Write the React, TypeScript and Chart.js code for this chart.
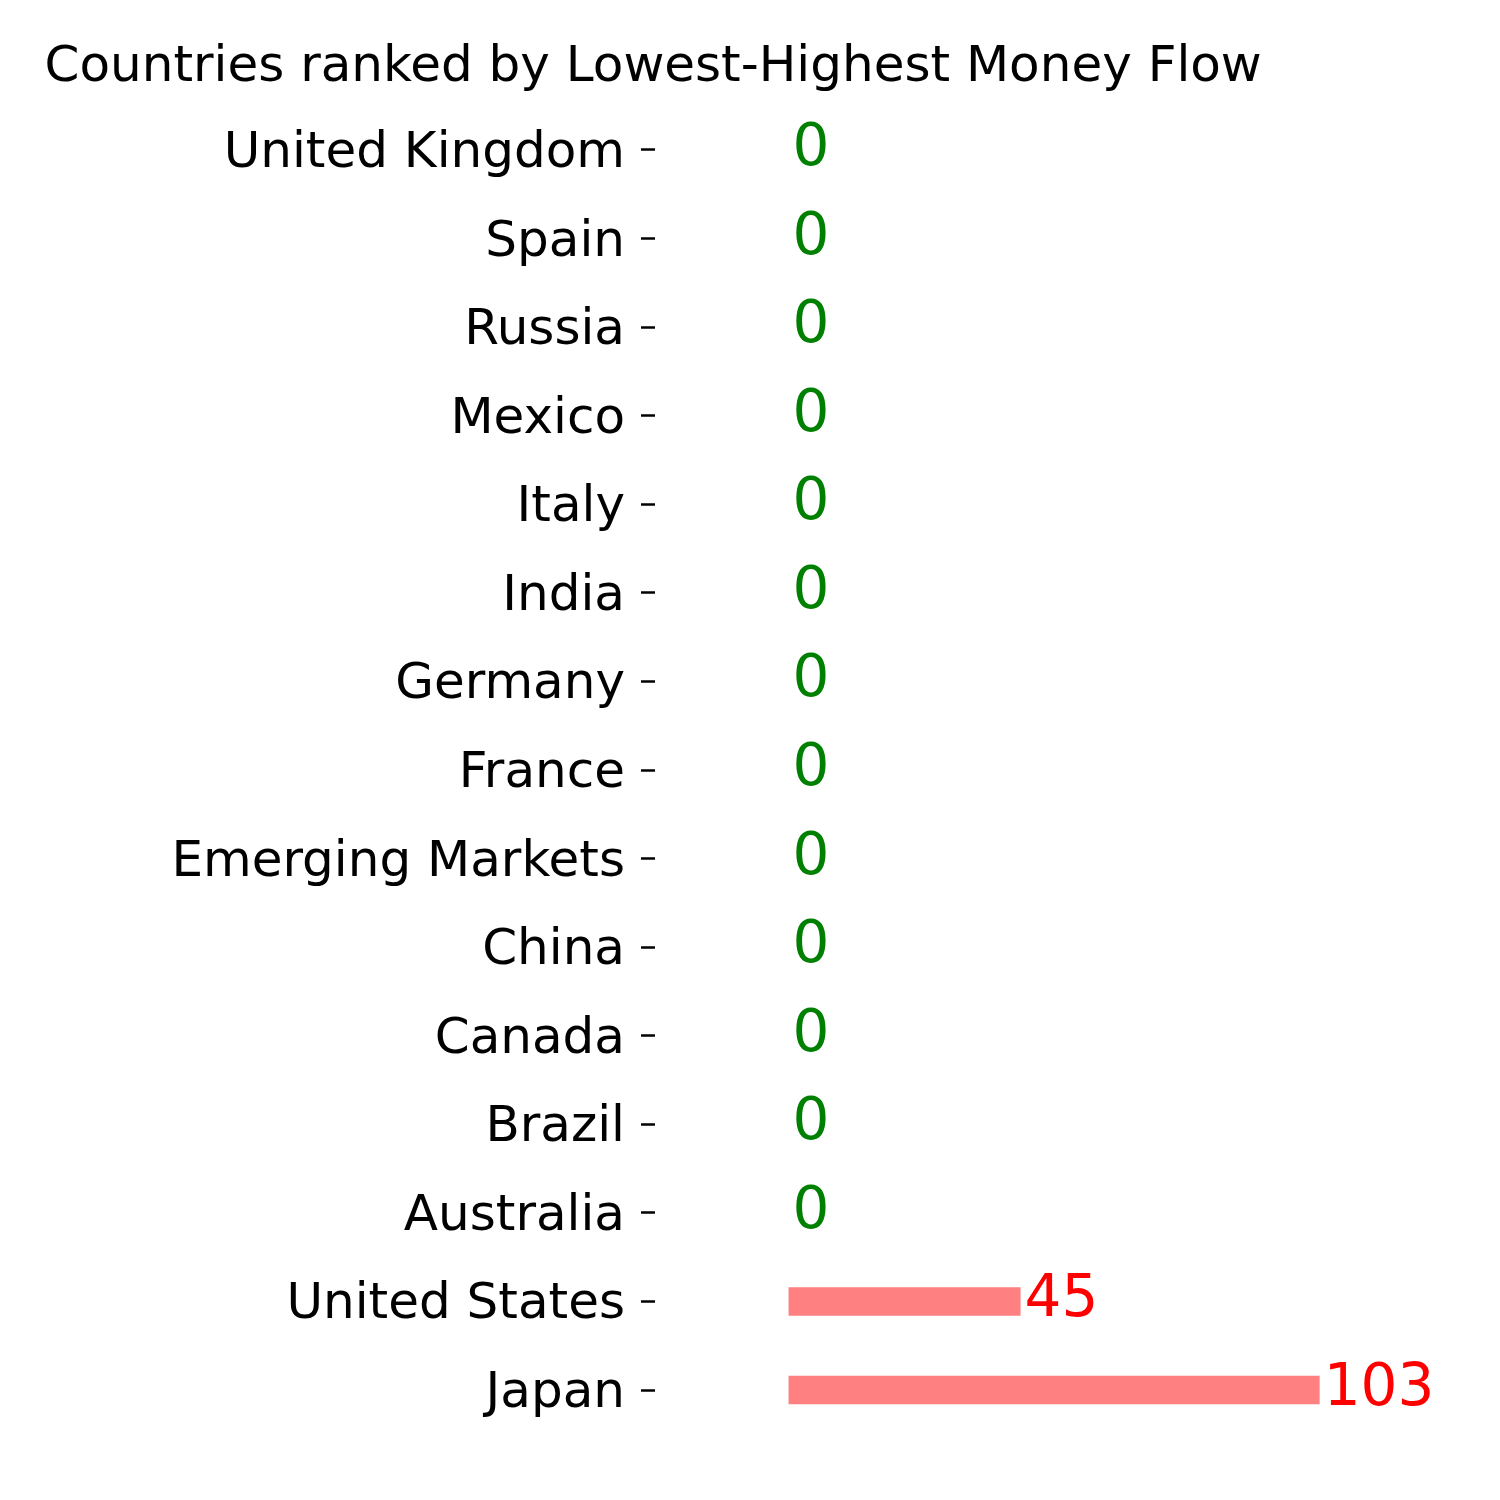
import React, { useEffect, useRef } from "react";
import { Chart, registerables } from "chart.js";

Chart.register(...registerables);

const categories = [
  "United Kingdom",
  "Spain",
  "Russia",
  "Mexico",
  "Italy",
  "India",
  "Germany",
  "France",
  "Emerging Markets",
  "China",
  "Canada",
  "Brazil",
  "Australia",
  "United States",
  "Japan",
];
const moneyFlow = [0, 0, 0, 0, 0, 0, 0, 0, 0, 0, 0, 0, 0, 45, 103];
const titleText = "Countries ranked by Lowest-Highest Money Flow";

const FONT = "'DejaVu Sans', sans-serif";

const valueLabels = {
  id: "valueLabels",
  afterDatasetsDraw(chart: any) {
    const ctx = chart.ctx;
    const meta = chart.getDatasetMeta(0);
    const data = chart.data.datasets[0].data as number[];
    ctx.save();
    ctx.font = `58px ${FONT}`;
    ctx.textAlign = "left";
    ctx.textBaseline = "alphabetic";
    meta.data.forEach((bar: any, i: number) => {
      const v = data[i];
      ctx.fillStyle = v > 0 ? "#ff0000" : "#008000";
      ctx.fillText(String(v), bar.x + 4, bar.y + 15);
    });
    ctx.restore();
  },
};

export default function App() {
  const ref = useRef<HTMLCanvasElement>(null);
  useEffect(() => {
    if (!ref.current) return;
    const chart = new Chart(ref.current, {
      type: "bar",
      data: {
        labels: categories,
        datasets: [
          {
            data: moneyFlow,
            backgroundColor: (c: any) => (c.raw > 0 ? "#ff8080" : "rgba(0,0,0,0)"),
            borderWidth: 0,
            inflateAmount: 0,
            barThickness: 28.5,
          },
        ],
      },
      plugins: [valueLabels],
      options: {
        indexAxis: "y",
        animation: false,
        responsive: false,
        layout: { padding: { left: 44.5, right: 20, top: 0, bottom: 65.7 } },
        plugins: {
          legend: { display: false },
          tooltip: { enabled: false },
          title: {
            display: true,
            text: titleText,
            align: "start",
            color: "#000",
            font: { family: FONT, size: 50, weight: "normal" },
            padding: { top: 38.5, bottom: 7.2 },
          },
        },
        scales: {
          x: {
            display: false,
            min: -25.9,
            max: 134.1,
          },
          y: {
            afterFit: (scale: any) => {
              scale.width = 610.5;
            },
            grid: {
              display: true,
              drawOnChartArea: false,
              drawTicks: true,
              tickLength: 14,
              tickWidth: 2.5,
              tickColor: "#000",
              offset: false,
            },
            border: { display: false },
            ticks: {
              color: "#000",
              padding: 16,
              labelOffset: 4,
              font: { family: FONT, size: 50 },
            },
          },
        },
      },
    });
    return () => chart.destroy();
  }, []);
  return (
    <div style={{ position: "absolute", left: 0, top: 0, width: 1500, height: 1500, background: "#fff" }}>
      <canvas ref={ref} width={1500} height={1500} />
    </div>
  );
}
